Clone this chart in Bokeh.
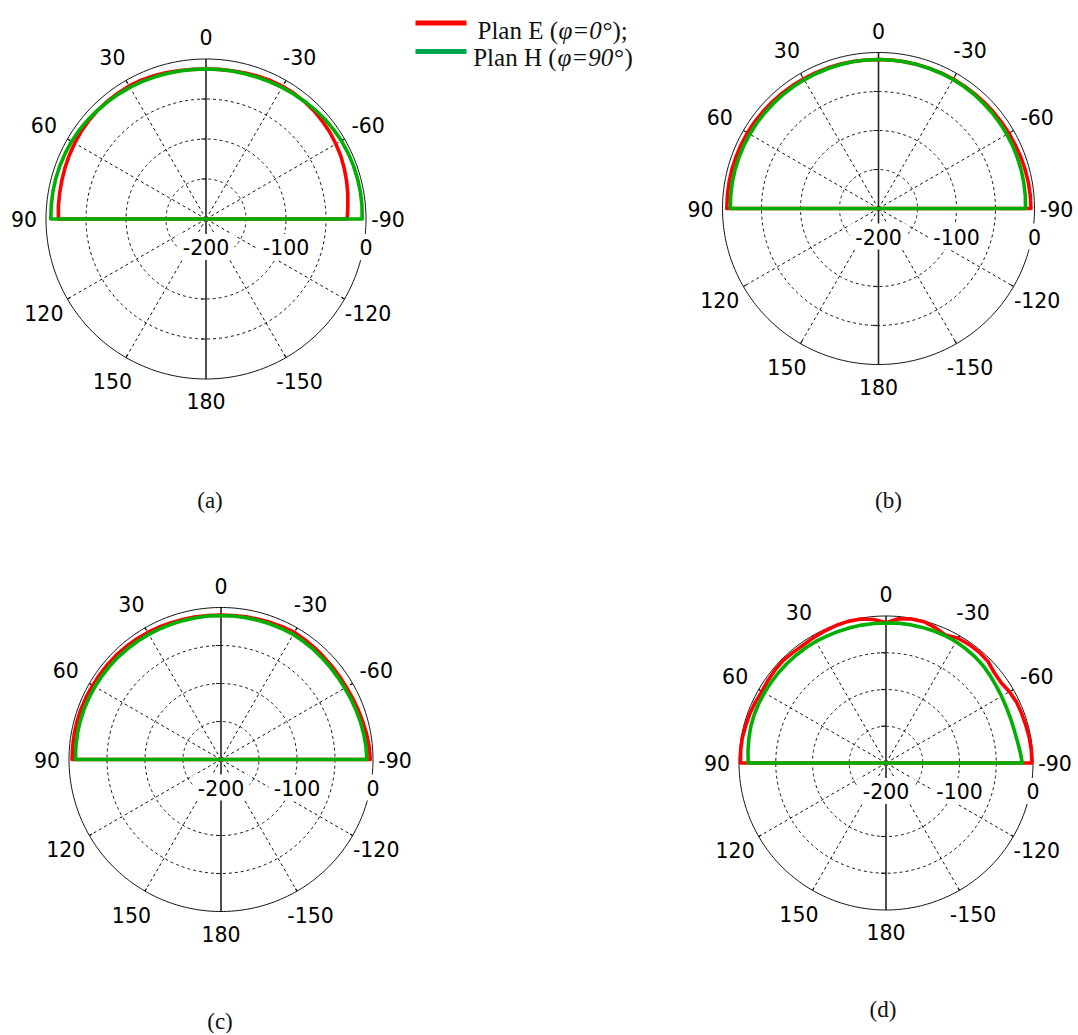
import numpy as np
from bokeh.plotting import figure
from bokeh.models import Range1d
from bokeh.embed import file_html
from bokeh.resources import INLINE
from bokeh.core.properties import value

# ---------------- data ----------------
# pattern angles (deg); the back hemisphere sits at the -200 dB floor
front_angles = [90, 85, 80, 75, 70, 65, 60, 55, 50, 45, 40, 35, 30, 25, 20, 15, 10, 5, 0,
                -5, -10, -15, -20, -25, -30, -35, -40, -45, -50, -55, -60, -65, -70, -75, -80, -85, -90]
angles = [180] + front_angles + [-180]
FLOOR = -200

a_planE = [FLOOR, -15.5, -14.8, -14.2, -13.5, -12.5, -11.5, -10.5, -9.5, -8.8, -8.3, -8.0, -8.0, -8.0, -8.5, -9.5,
           -10.5, -11.5, -12.2, -12.5, -12.3, -11.8, -11.0, -10.0, -9.0, -8.5, -8.3, -8.5, -9.0, -10.0, -11.0, -12.5,
           -14.0, -16.0, -18.0, -20.0, -22.0, -23.5, FLOOR]
a_planH = [FLOOR, -6.0, -5.8, -5.6, -5.5, -5.6, -5.8, -6.0, -6.5, -7.2, -8.0, -8.8, -9.4, -10.0, -10.6, -11.2,
           -11.8, -12.2, -12.4, -12.5, -12.4, -12.2, -12.0, -11.5, -10.8, -10.0, -9.2, -8.2, -7.0, -6.0, -5.2, -4.5,
           -4.2, -4.0, -4.0, -4.0, -4.3, -4.8, FLOOR]

b_planE = [FLOOR, -5.5, -5.5, -5.5, -5.5, -5.7, -5.8, -6.0, -6.3, -6.7, -7.0, -7.4, -7.7, -8.0, -8.2, -8.4,
           -8.5, -8.7, -8.9, -9.0, -9.0, -9.0, -9.0, -8.8, -8.6, -8.5, -8.3, -8.1, -8.0, -7.6, -7.3, -7.0,
           -6.6, -6.0, -5.5, -5.0, -4.7, -4.5, FLOOR]
b_planH = [FLOOR, -10.0, -9.8, -9.6, -9.5, -9.5, -9.5, -9.5, -9.5, -9.5, -9.5, -9.5, -9.5, -9.5, -9.4, -9.3,
           -9.1, -9.0, -9.0, -9.0, -9.0, -9.0, -9.0, -9.0, -9.0, -9.0, -9.0, -9.2, -9.5, -9.6, -9.8, -10.0,
           -10.2, -10.4, -10.5, -10.8, -11.1, -11.5, FLOOR]

c_planE = [FLOOR, -4.0, -4.0, -4.0, -4.0, -4.2, -4.6, -5.0, -5.2, -5.4, -5.5, -6.0, -6.5, -7.0, -7.7, -8.4,
           -9.0, -9.4, -9.8, -10.0, -9.8, -9.4, -9.0, -8.3, -7.6, -7.0, -7.6, -8.3, -9.0, -9.3, -9.5, -9.5,
           -9.0, -8.0, -7.0, -5.5, -4.3, -3.5, FLOOR]
c_planH = [FLOOR, -8.5, -8.3, -8.1, -8.0, -8.1, -8.3, -8.5, -8.7, -8.9, -9.0, -9.4, -9.7, -10.0, -10.2, -10.4,
           -10.5, -10.5, -10.5, -10.5, -10.5, -10.5, -10.5, -10.4, -10.2, -10.0, -10.5, -11.0, -11.5, -11.8, -12.0,
           -12.0, -11.5, -10.8, -10.0, -9.2, -8.5, -8.0, FLOOR]

d_planE = [FLOOR, -2.0, -1.5, -1.5, -2.5, -3.0, -4.0, -5.0, -4.0, -3.0, -2.5, -3.5, -4.0, -3.0, -2.0, -1.0,
           -0.5, -1.0, -4.0, -9.0, -3.0, -1.0, -1.0, -4.0, -8.0, -4.0, -3.0, -3.0, -4.0, -8.0, -9.0, -6.0,
           -4.0, -3.5, -3.0, -2.0, -1.5, -1.5, FLOOR]
d_planH = [FLOOR, -12.5, -11.5, -10.5, -9.5, -9.0, -9.0, -9.0, -9.0, -9.0, -9.0, -9.0, -9.0, -9.0, -9.5, -9.5,
           -9.5, -9.5, -9.5, -9.5, -9.0, -9.0, -9.0, -9.0, -9.0, -9.5, -10.5, -11.5, -13.0, -15.0, -17.0, -18.5,
           -19.5, -20.0, -20.0, -19.0, -17.0, -14.5, FLOOR]

# axis ticks / labels
angle_ticks = [0, 30, 60, 90, 120, 150, 180, -150, -120, -90, -60, -30]
angle_labels = ["0", "30", "60", "90", "120", "150", "180", "-150", "-120", "-90", "-60", "-30"]
spoke_angles = [30, 60, 120, 150, -30, -60, -120, -150]
radial_ticks = [-200, -100, 0]
radial_labels = ["-200", "-100", "0"]
ring_levels = [-150, -100, -50]
R_MIN, R_MAX = -200, 0

legend_names = ["Plan E (", "Plan H ("]
legend_phi = ["\u03c6=0\u00b0", "\u03c6=90\u00b0"]
legend_tail = [");", ")"]
panel_tags = ["(a)", "(b)", "(c)", "(d)"]

for s in (a_planE, a_planH, b_planE, b_planH, c_planE, c_planH, d_planE, d_planH):
    assert len(s) == len(angles)

# ---------------- layout ----------------
W, H = 1076, 1033
panels = [
    dict(cx=205.5, cy=218.5, R=160, e=a_planE, h=a_planH, tx=209.5, ty=500),
    dict(cx=878.0, cy=208.0, R=156, e=b_planE, h=b_planH, tx=888.0, ty=500),
    dict(cx=220.5, cy=759.0, R=152, e=c_planE, h=c_planH, tx=219.5, ty=1020.5),
    dict(cx=885.5, cy=762.5, R=147, e=d_planE, h=d_planH, tx=882.5, ty=1009),
]

RED = "#ff0000"
GREEN = "#00b000"
INK = "#111111"


def pol(cx, cy, R, th_deg, db):
    th = np.radians(np.asarray(th_deg, dtype=float))
    rr = R * (np.asarray(db, dtype=float) - R_MIN) / (R_MAX - R_MIN)
    return cx - rr * np.sin(th), cy - rr * np.cos(th)


p = figure(width=W, height=H, x_range=Range1d(0, W), y_range=Range1d(H, 0),
           output_backend="svg", toolbar_location=None, min_border=0,
           x_axis_type=None, y_axis_type=None)
p.grid.visible = False
p.outline_line_color = None
p.background_fill_color = "white"

full = np.linspace(0, 360, 361)
for i, pn in enumerate(panels):
    cx, cy, R = pn["cx"], pn["cy"], pn["R"]
    # dashed rings
    for lev in ring_levels:
        xs, ys = pol(cx, cy, R, full, np.full(full.shape, lev))
        p.line(xs, ys, line_color=INK, line_width=1, line_dash="3 3")
    # dashed spokes
    x1, y1 = pol(cx, cy, R, spoke_angles, [R_MAX] * len(spoke_angles))
    p.segment(x0=[cx] * len(spoke_angles), y0=[cy] * len(spoke_angles), x1=x1, y1=y1,
              line_color=INK, line_width=1, line_dash="3 3")
    # outer circle
    xs, ys = pol(cx, cy, R, full, np.full(full.shape, R_MAX))
    p.line(xs, ys, line_color=INK, line_width=1)
    # ticks on outer circle
    xo, yo = pol(cx, cy, R, spoke_angles, [R_MAX] * len(spoke_angles))
    xi, yi = pol(cx, cy, R, spoke_angles, [R_MAX - 4] * len(spoke_angles))
    p.segment(x0=xo, y0=yo, x1=xi, y1=yi, line_color=INK, line_width=1.2)
    # vertical solid axis 0-180
    xa, ya = pol(cx, cy, R, [0, 180], [R_MAX, R_MAX])
    p.line(xa, ya, line_color="#222222", line_width=1.6)
    # ticks on vertical axis at ring levels
    for th in (0, 180):
        xt, yt = pol(cx, cy, R, [th] * 3, ring_levels)
        p.segment(x0=xt, y0=yt, x1=xt - 5, y1=yt, line_color="#222222", line_width=1.2)
    # radial labels with white background
    xr, _ = pol(cx, cy, R, [-90] * 3, radial_ticks)
    p.text(x=xr, y=[cy + 28] * 3, text=radial_labels, text_align="center", text_baseline="middle",
           text_font=value("DejaVu Sans"), text_font_size="20.5px", text_color="#000000",
           background_fill_color="white", padding=5)
    # angle labels
    th = np.radians(angle_ticks)
    off = 22 + 6 * np.abs(np.sin(2 * th))
    lx = cx - (R + off) * np.sin(th)
    ly = cy - (R + off) * np.cos(th)
    p.text(x=lx, y=ly, text=angle_labels, text_align="center", text_baseline="middle",
           text_font=value("DejaVu Sans"), text_font_size="20.5px", text_color="#000000")
    # pattern curves
    xe, ye = pol(cx, cy, R, angles, pn["e"])
    p.line(xe, ye, line_color=RED, line_width=3.6, line_join="round")
    xh, yh = pol(cx, cy, R, angles, pn["h"])
    p.line(xh, yh, line_color=GREEN, line_width=3.6, line_join="round")
    # panel tag
    p.text(x=[pn["tx"]], y=[pn["ty"]], text=[panel_tags[i]], text_align="center", text_baseline="middle",
           text_font=value("Liberation Serif"), text_font_size="23px", text_color="#111111")

# ---------------- legend ----------------
leg_line_y = [22.5, 51]
leg_base_y = [30, 57]
leg_colors = [RED, "#00a651"]
leg_x0 = [477, 472.7]
leg_phi_x = [558, 557]
leg_tail_x = [612, 624]
for k in range(2):
    p.line([415, 466], [leg_line_y[k]] * 2, line_color=leg_colors[k], line_width=5)
    p.text(x=[leg_x0[k]], y=[leg_base_y[k]], text=[legend_names[k]], text_align="left",
           text_baseline="alphabetic", text_font=value("Liberation Serif"), text_font_size="25px",
           text_color="#111111")
    p.text(x=[leg_phi_x[k]], y=[leg_base_y[k]], text=[legend_phi[k]], text_align="left",
           text_baseline="alphabetic", text_font=value("Liberation Serif"), text_font_size="25px",
           text_font_style="italic", text_color="#111111")
    p.text(x=[leg_tail_x[k]], y=[leg_base_y[k]], text=[legend_tail[k]], text_align="left",
           text_baseline="alphabetic", text_font=value("Liberation Serif"), text_font_size="25px",
           text_color="#111111")

open("out.html", "w").write(file_html(p, INLINE))
